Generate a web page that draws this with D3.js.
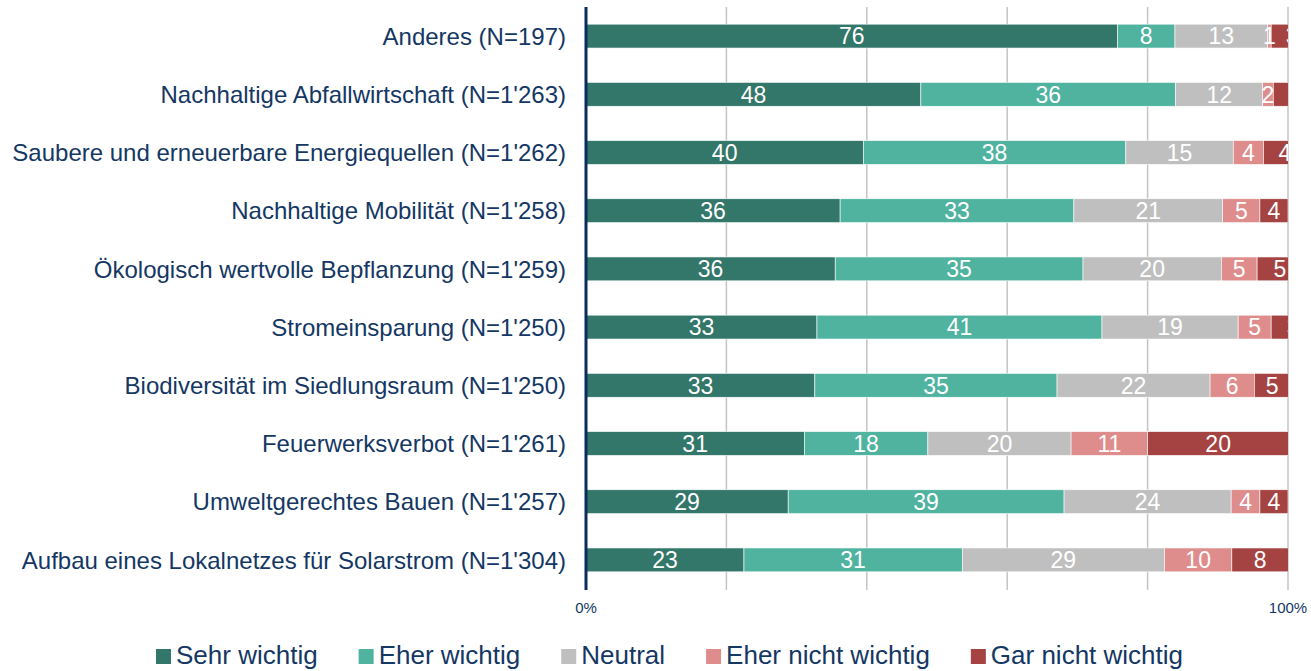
<!DOCTYPE html>
<html>
<head>
<meta charset="utf-8">
<script src="https://cdn.jsdelivr.net/npm/d3@7"></script>
<style>
  html, body { margin: 0; padding: 0; background: #fff; }
  svg { display: block; font-family: "Liberation Sans", Arial, sans-serif; }
</style>
</head>
<body>
<svg id="chart" width="1311" height="671"></svg>
<script>
// ---- data ----
const categories = [
  "Anderes (N=197)",
  "Nachhaltige Abfallwirtschaft (N=1'263)",
  "Saubere und erneuerbare Energiequellen (N=1'262)",
  "Nachhaltige Mobilität (N=1'258)",
  "Ökologisch wertvolle Bepflanzung (N=1'259)",
  "Stromeinsparung (N=1'250)",
  "Biodiversität im Siedlungsraum (N=1'250)",
  "Feuerwerksverbot (N=1'261)",
  "Umweltgerechtes Bauen (N=1'257)",
  "Aufbau eines Lokalnetzes für Solarstrom (N=1'304)"
];
const seriesNames = ["Sehr wichtig", "Eher wichtig", "Neutral", "Eher nicht wichtig", "Gar nicht wichtig"];
const seriesColors = ["#33766a", "#4fb3a0", "#bfbfbf", "#df8c8c", "#a54343"];

// bar lengths (percent, as drawn)
const sehrWichtig      = [75.7, 47.7, 39.5, 36.2, 35.5, 32.9, 32.6, 31.1, 28.8, 22.5];
const eherWichtig      = [ 8.2, 36.3, 37.4, 33.3, 35.3, 40.6, 34.5, 17.6, 39.3, 31.1];
const neutral          = [13.2, 12.4, 15.3, 21.2, 19.7, 19.4, 21.8, 20.4, 23.8, 28.8];
const eherNichtWichtig = [ 0.5,  1.5,  4.3,  5.3,  5.1,  4.7,  6.3, 10.9,  4.1,  9.6];
const garNichtWichtig  = [ 6.0,  6.0,  6.1,  4.0,  6.5,  6.3,  5.1, 20.1,  4.0,  8.1];

// printed data labels
const sehrWichtigLabels      = [76, 48, 40, 36, 36, 33, 33, 31, 29, 23];
const eherWichtigLabels      = [ 8, 36, 38, 33, 35, 41, 35, 18, 39, 31];
const neutralLabels          = [13, 12, 15, 21, 20, 19, 22, 20, 24, 29];
const eherNichtWichtigLabels = [ 1,  2,  4,  5,  5,  5,  6, 11,  4, 10];
const garNichtWichtigLabels  = [ 3,  2,  4,  4,  5,  3,  5, 20,  4,  8];

const xTicks = [0, 100];
const xTickLabels = ["0%", "100%"];
const gridValues = [20, 40, 60, 80, 100];

// ---- build table ----
const valueArrays = [sehrWichtig, eherWichtig, neutral, eherNichtWichtig, garNichtWichtig];
const labelArrays = [sehrWichtigLabels, eherWichtigLabels, neutralLabels, eherNichtWichtigLabels, garNichtWichtigLabels];
const table = categories.map((c, i) => {
  const row = { category: c, idx: i };
  seriesNames.forEach((s, j) => row[s] = valueArrays[j][i]);
  return row;
});
const stacked = d3.stack().keys(seriesNames)(table);

// ---- scales ----
const svg = d3.select("#chart");
const textColor = "#143764";
const x = d3.scaleLinear().domain([0, 100]).range([586, 1288]);
const y = d3.scaleBand().domain(categories).range([7, 589]).paddingInner(0.59).paddingOuter(0.295);

svg.append("defs").append("clipPath").attr("id", "plotclip")
  .append("rect").attr("x", x(0)).attr("y", 0).attr("width", x(100) - x(0)).attr("height", 600);

// gridlines
svg.append("g").selectAll("line").data(gridValues).join("line")
  .attr("x1", d => x(d)).attr("x2", d => x(d))
  .attr("y1", 7).attr("y2", 590)
  .attr("stroke", "#c4c4c4").attr("stroke-width", 1.5);

// bars
const plot = svg.append("g").attr("clip-path", "url(#plotclip)");
const groups = plot.selectAll("g.series").data(stacked).join("g")
  .attr("class", "series")
  .attr("fill", (d, i) => seriesColors[i]);
groups.selectAll("rect").data(d => d).join("rect")
  .attr("x", d => x(d[0]))
  .attr("y", d => y(d.data.category))
  .attr("width", d => x(d[1]) - x(d[0]))
  .attr("height", y.bandwidth())
  .attr("stroke", "#ffffff").attr("stroke-width", 0.6);

// data labels
stacked.forEach((s, si) => {
  plot.append("g").selectAll("text").data(s).join("text")
    .attr("x", d => (x(d[0]) + x(d[1])) / 2)
    .attr("y", d => y(d.data.category) + y.bandwidth() / 2)
    .attr("dy", "0.36em")
    .attr("text-anchor", "middle")
    .attr("fill", "#ffffff")
    .attr("font-size", 23)
    .text(d => labelArrays[si][d.data.idx]);
});

// y axis line
svg.append("line")
  .attr("x1", x(0)).attr("x2", x(0))
  .attr("y1", 7).attr("y2", 590)
  .attr("stroke", "#0b2d5a").attr("stroke-width", 3);

// category labels
svg.append("g").selectAll("text").data(categories).join("text")
  .attr("x", x(0) - 20)
  .attr("y", d => y(d) + y.bandwidth() / 2)
  .attr("dy", "0.36em")
  .attr("text-anchor", "end")
  .attr("fill", textColor)
  .attr("font-size", 24)
  .text(d => d);

// x tick labels
svg.append("g").selectAll("text").data(xTicks).join("text")
  .attr("x", d => x(d))
  .attr("y", 613)
  .attr("text-anchor", "middle")
  .attr("fill", textColor)
  .attr("font-size", 15)
  .text((d, i) => xTickLabels[i]);

// legend
const legend = svg.append("g");
let lx = 156;
seriesNames.forEach((s, i) => {
  legend.append("rect")
    .attr("x", lx).attr("y", 649).attr("width", 15).attr("height", 15)
    .attr("fill", seriesColors[i]);
  const t = legend.append("text")
    .attr("x", lx + 20).attr("y", 664)
    .attr("fill", textColor)
    .attr("font-size", 26)
    .text(s);
  lx += 20 + t.node().getComputedTextLength() + 41;
});
</script>
</body>
</html>
